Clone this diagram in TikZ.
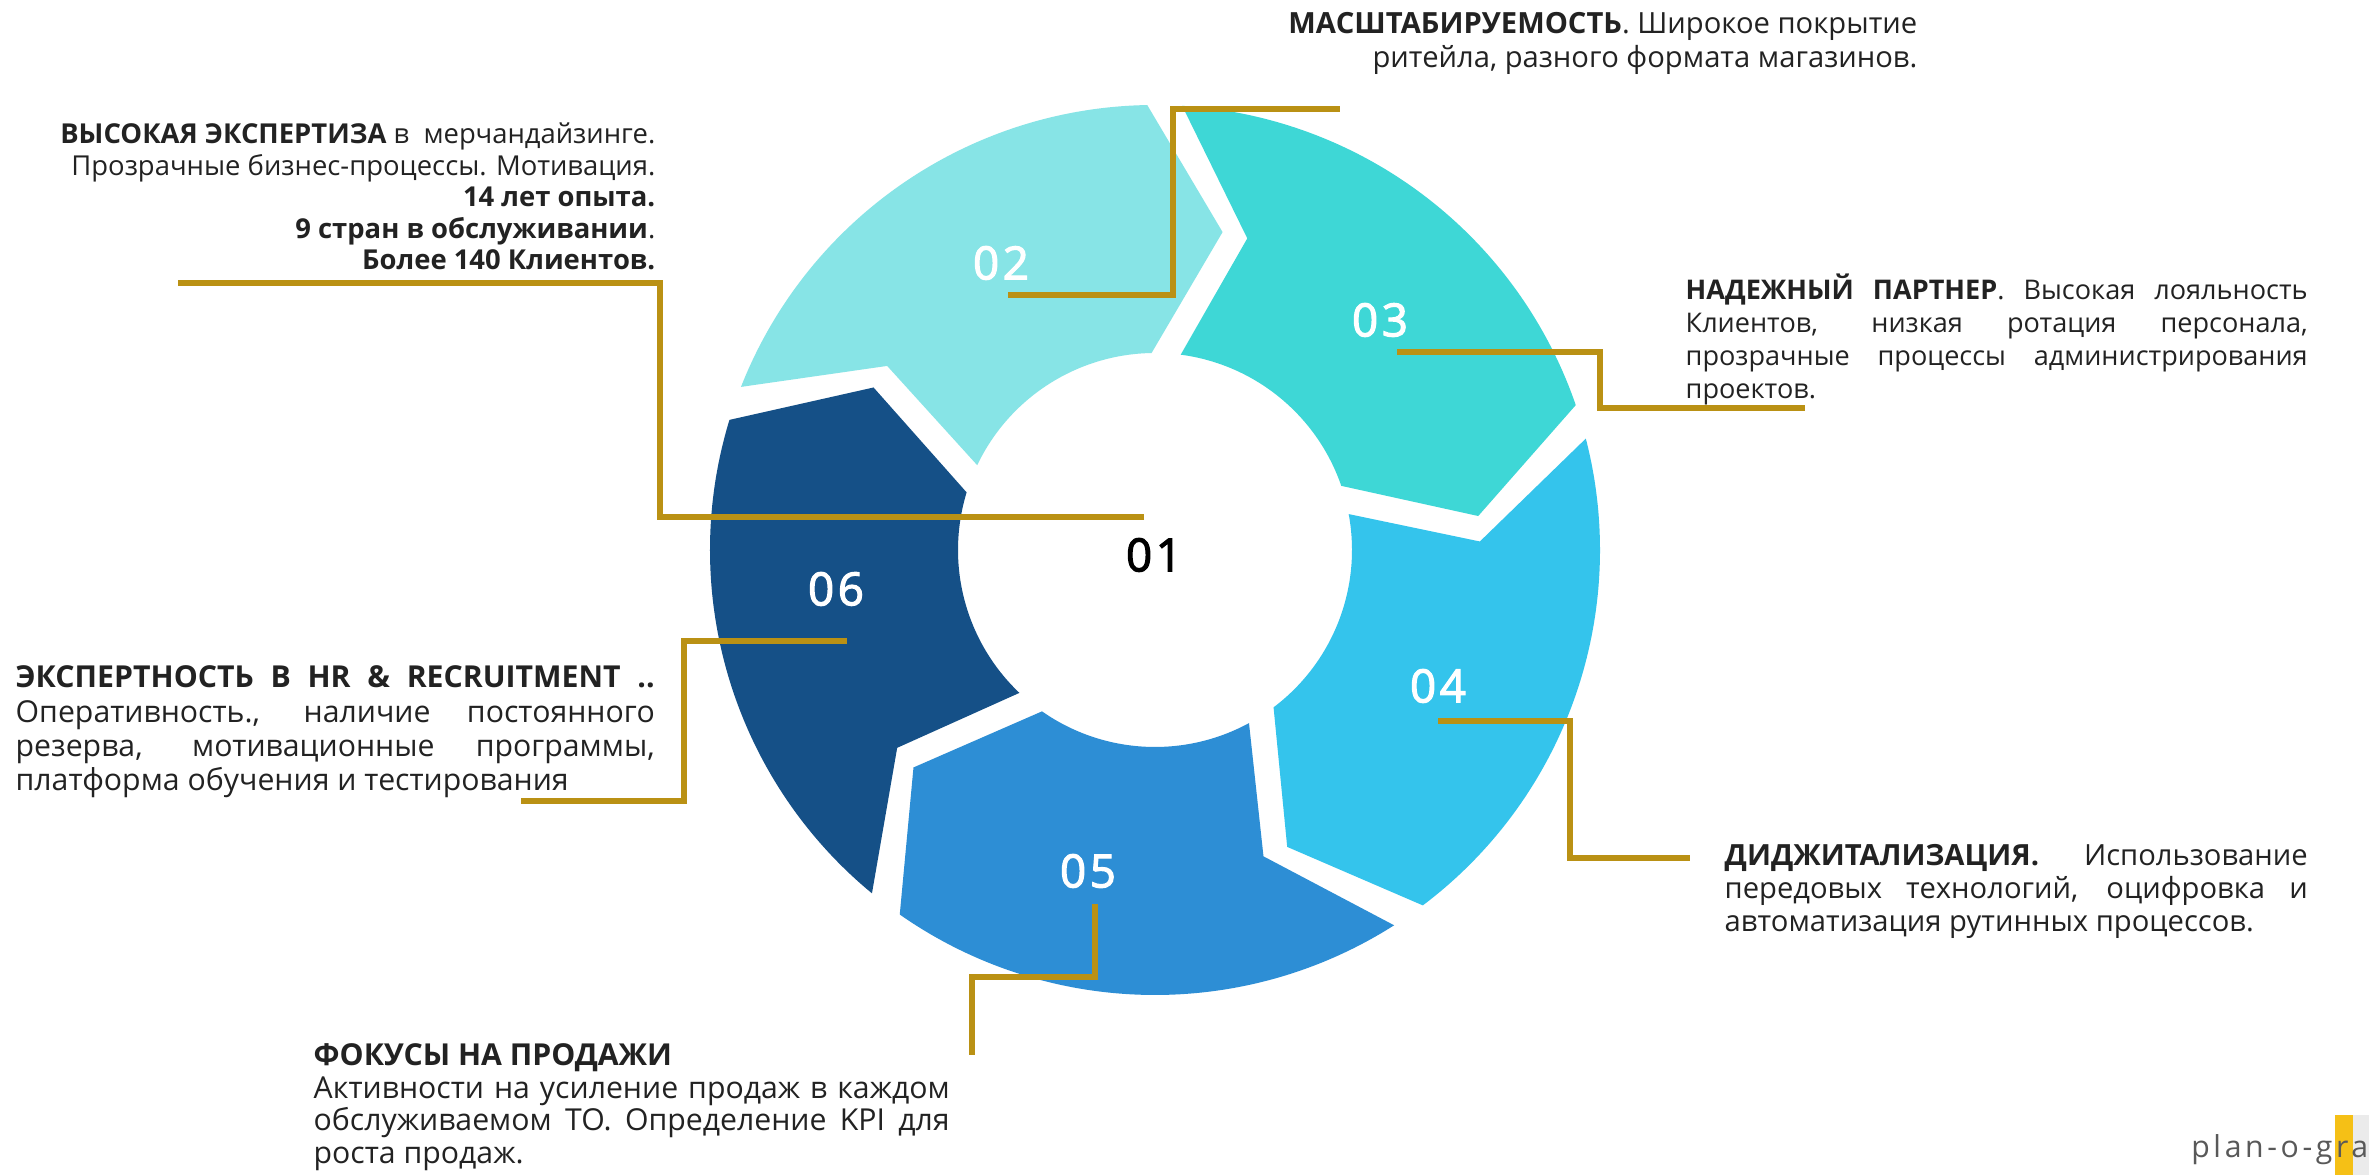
\documentclass[tikz,border=0pt]{standalone}
\usepackage{fontspec}
\setmainfont{Open Sans}
\newfontfamily\numfont[LetterSpace=8, FakeBold=2.5]{Open Sans}
\newfontfamily\logofont[LetterSpace=12]{Open Sans}
\usepackage{tikz}
\definecolor{seg02}{RGB}{135,228,230}
\definecolor{seg03}{RGB}{62,215,214}
\definecolor{seg04}{RGB}{52,196,236}
\definecolor{seg05}{RGB}{45,142,213}
\definecolor{seg06}{RGB}{21,80,135}
\definecolor{gold}{RGB}{186,145,20}
\definecolor{ink}{RGB}{34,34,34}
\definecolor{logoyellow}{RGB}{245,192,22}
\tikzstyle{number}=[text=white, font=\numfont\fontsize{13}{13}\selectfont]
\tikzstyle{goldline}=[draw=gold, line width=1.8pt]
\tikzstyle{info}=[inner sep=0pt, text=ink, font=\fontsize{8.3}{9.6}\selectfont]

\begin{document}
\begin{tikzpicture}
	\useasboundingbox (0,0) rectangle (23.69,11.75);
	\fill[white] (0,0) rectangle (23.69,11.75);
	\begin{scope}[shift={(11.55,6.25)}]
		\foreach \c [count=\k from 0] in {seg02,seg03,seg04,seg05,seg06}{
			\pgfmathsetmacro{\headA}{91-72*\k}
			\pgfmathsetmacro{\tailA}{\headA+72}
			\fill[\c] (\tailA-4.5:4.45) arc[start angle=\tailA-4.5, end angle=\headA, radius=4.45]
				-- (\headA-13:3.25) -- (\headA:1.97)
				arc[start angle=\headA, end angle=\tailA-8.5, radius=1.97]
				-- (\tailA-17.5:3.25) -- cycle;
		}
	\end{scope}
	\begin{scope}
		\node (n01) at (11.54, 6.20)[number, text=black] {01};
		\node (n02) at (10.01, 9.12)[number] {02};
		\node (n03) at (13.80, 8.55)[number] {03};
		\node (n04) at (14.38, 4.89)[number] {04};
		\node (n05) at (10.88, 3.04)[number] {05};
		\node (n06) at (8.36, 5.86)[number] {06};
	\end{scope}
	\begin{scope}
		\node (t01) at (6.56, 10.53)[info, anchor=north east, align=right, font=\fontsize{7.8}{9}\selectfont]
			{\textbf{ВЫСОКАЯ ЭКСПЕРТИЗА} в\ \ мерчандайзинге.\\
			Прозрачные бизнес-процессы. Мотивация.\\
			\textbf{14 лет опыта.}\\
			\textbf{9 стран в обслуживании}.\\
			\textbf{Более 140 Клиентов.}};
		\node (t02) at (19.18, 11.63)[info, anchor=north east, align=right, font=\fontsize{8.3}{9.7}\selectfont]
			{\textbf{МАСШТАБИРУЕМОСТЬ}. Широкое покрытие\\
			ритейла, разного формата магазинов.};
		\node (t03) at (16.85, 9.02)[info, anchor=north west, text width=6.22cm, align=justify, font=\fontsize{7.7}{9.4}\selectfont]
			{\textbf{НАДЕЖНЫЙ ПАРТНЕР}. Высокая лояльность\linebreak
			Клиентов, низкая ротация персонала,\linebreak
			прозрачные процессы администрирования\linebreak
			проектов.};
		\node (t04) at (17.24, 3.31)[info, anchor=north west, text width=5.83cm, align=justify, font=\fontsize{8.3}{9.4}\selectfont]
			{\textbf{ДИДЖИТАЛИЗАЦИЯ.} Использование\linebreak
			передовых технологий, оцифровка и\linebreak
			автоматизация рутинных процессов.};
		\node (t05) at (3.13, 1.32)[info, anchor=north west, text width=6.36cm, align=justify, font=\fontsize{8.6}{9.3}\selectfont]
			{\textbf{ФОКУСЫ НА ПРОДАЖИ}\\
			Активности на усиление продаж в каждом\linebreak
			обслуживаемом ТО. Определение KPI для\linebreak
			роста продаж.};
		\node (t06) at (0.15, 5.10)[info, anchor=north west, text width=6.39cm, align=justify, font=\fontsize{8.6}{9.8}\selectfont]
			{\textbf{ЭКСПЕРТНОСТЬ В HR \& RECRUITMENT ..}\linebreak
			Оперативность., наличие постоянного\linebreak
			резерва, мотивационные программы,\linebreak
			платформа обучения и тестирования};
	\end{scope}
	\begin{scope}
		\coordinate (s01) at (11.44, 6.58);
		\coordinate (b01) at (6.60, 8.92);
		\coordinate (e01) at (1.78, 8.92);
		\coordinate (s02) at (10.08, 8.80);
		\coordinate (b02) at (11.73, 10.66);
		\coordinate (e02) at (13.40, 10.66);
		\coordinate (s03) at (13.97, 8.23);
		\coordinate (b03) at (16.00, 7.67);
		\coordinate (e03) at (18.05, 7.67);
		\coordinate (s04) at (14.38, 4.54);
		\coordinate (b04) at (15.70, 3.17);
		\coordinate (e04) at (16.90, 3.17);
		\coordinate (s05) at (10.95, 2.71);
		\coordinate (b05) at (9.72, 1.98);
		\coordinate (e05) at (9.72, 1.20);
		\coordinate (s06) at (8.47, 5.34);
		\coordinate (b06) at (6.84, 3.74);
		\coordinate (e06) at (5.21, 3.74);
		\draw[goldline] (s01) -| (b01) -- (e01);
		\draw[goldline] (s02) -| (b02) -- (e02);
		\draw[goldline] (s03) -| (b03) -- (e03);
		\draw[goldline] (s04) -| (b04) -- (e04);
		\draw[goldline] (s05) |- (b05) -- (e05);
		\draw[goldline] (s06) -| (b06) -- (e06);
	\end{scope}
	\fill[logoyellow] (23.35, 0) rectangle (23.53, 0.60);
	\fill[black!8] (23.53, 0) rectangle (23.69, 0.60);
	\node (logo) at (23.69, 0.17)[anchor=base east, inner sep=0pt, text=black!65, font=\logofont\fontsize{8.6}{9}\selectfont] {plan-o-gra};
\end{tikzpicture}
\end{document}
